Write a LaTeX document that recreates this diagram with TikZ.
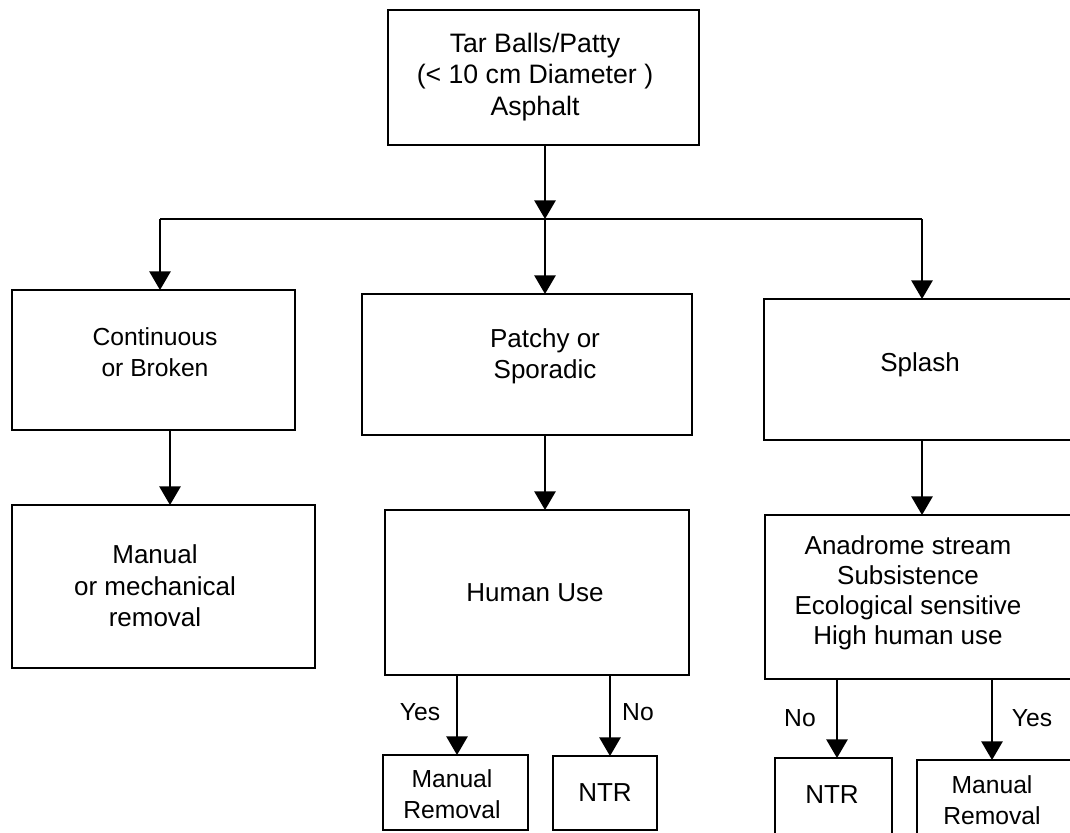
\documentclass[tikz,border=0pt]{standalone}
\usepackage{fontspec}
\setmainfont{Liberation Sans}
\usetikzlibrary{arrows.meta}
\tikzset{
  boxnode/.style={draw, line width=1.3pt, inner sep=0pt, outer sep=0pt},
  txt/.style={align=center, inner sep=0pt, font=\fontsize{19.5}{23.5}\selectfont},
  smalltxt/.style={align=center, inner sep=0pt, font=\fontsize{18.5}{23.5}\selectfont},
  lbl/.style={inner sep=0pt, font=\fontsize{18.5}{22}\selectfont},
  arr/.style={line width=1.3pt, -{Triangle[width=16pt,length=14pt]}},
  ln/.style={line width=1.3pt}
}
\newcommand{\mybox}[5]{\node[boxnode, minimum width={(#4-#2)*0.75pt}, minimum height={(#5-#3)*0.75pt}] (#1) at ({(#2+#4)/2},{(#3+#5)/2}) {};}
\begin{document}
\begin{tikzpicture}[x=0.75pt,y=-0.75pt]
\useasboundingbox (0,0) rectangle (1070,832);
% boxes
\mybox{top}{388}{10}{699}{145}
\mybox{cA}{12}{290}{295}{430}
\mybox{cB}{362}{294}{692}{435}
\mybox{cC}{764}{299}{1078}{440}
\mybox{dA}{12}{505}{315}{668}
\mybox{dB}{385}{510}{689}{675}
\mybox{dC}{765}{515}{1078}{679}
\mybox{eA}{383}{755}{528}{830}
\mybox{eB}{553}{756}{657}{830}
\mybox{eC}{775}{758}{892}{842}
\mybox{eD}{917}{760}{1078}{842}
% texts
\node[txt, font=\fontsize{20}{23.5}\selectfont] (tTop) at (535,77) {Tar Balls/Patty\\(< 10 cm Diameter )\\Asphalt};
\node[smalltxt] (tA) at (155,352) {Continuous\\or Broken};
\node[txt] (tB) at (545,356) {Patchy or\\Sporadic};
\node[txt] (tC) at (920,365) {Splash};
\node[txt] (tDA) at (155,586) {Manual\\or mechanical\\removal};
\node[txt] (tDB) at (535,593) {Human Use};
\node[txt, font=\fontsize{19.5}{22.5}\selectfont] (tDC) at (908,593) {Anadrome stream\\Subsistence\\Ecological sensitive\\High human use};
\node[smalltxt] (tEA) at (452,794) {Manual\\Removal};
\node[txt] (tEB) at (605,793) {NTR};
\node[txt] (tEC) at (832,795) {NTR};
\node[smalltxt] (tED) at (992,800) {Manual\\Removal};
% labels
\node[lbl] (yes1) at (420,712) {Yes};
\node[lbl] (no1) at (638,712) {No};
\node[lbl] (no2) at (800,718) {No};
\node[lbl] (yes2) at (1032,718) {Yes};
% coordinates
\coordinate (J) at (545,219);
\coordinate (L) at (160,219);
\coordinate (R) at (922,219);
\coordinate (xA) at (170,0);
\coordinate (xB) at (545,0);
\coordinate (xC) at (922,0);
\coordinate (xYes1) at (457,0);
\coordinate (xNo1) at (610,0);
\coordinate (xNo2) at (837,0);
\coordinate (xYes2) at (992,0);
% connectors
\draw[arr] (top.south -| J) -- (J);
\draw[ln] (L) -- (R);
\draw[arr] (L) -- (L |- cA.north);
\draw[arr] (J) -- (J |- cB.north);
\draw[arr] (R) -- (R |- cC.north);
\draw[arr] (cA.south -| xA) -- (dA.north -| xA);
\draw[arr] (cB.south -| xB) -- (dB.north -| xB);
\draw[arr] (cC.south -| xC) -- (dC.north -| xC);
\draw[arr] (dB.south -| xYes1) -- (eA.north -| xYes1);
\draw[arr] (dB.south -| xNo1) -- (eB.north -| xNo1);
\draw[arr] (dC.south -| xNo2) -- (eC.north -| xNo2);
\draw[arr] (dC.south -| xYes2) -- (eD.north -| xYes2);
\end{tikzpicture}
\end{document}
